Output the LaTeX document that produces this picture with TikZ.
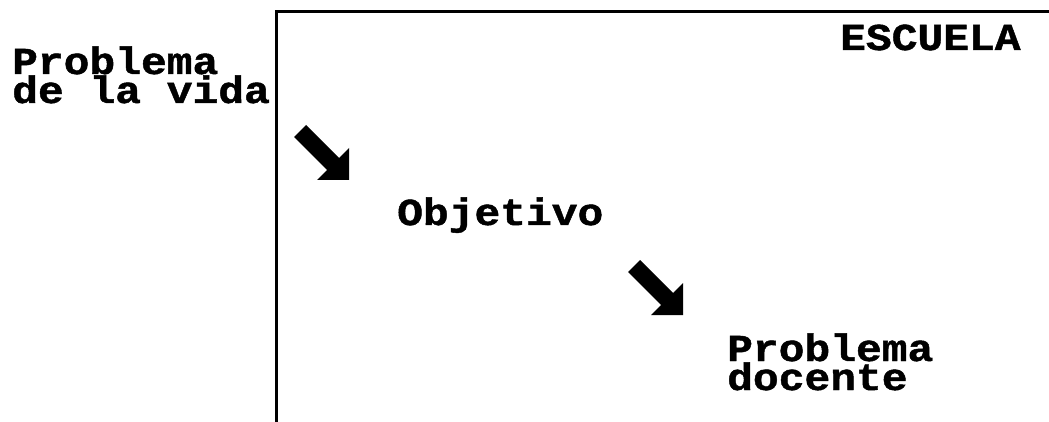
\documentclass[tikz,border=0pt]{standalone}
\usepackage{fontspec}
\newfontfamily\pixfont[FakeStretch=1.13,BoldFeatures={FakeBold=1.2}]{Liberation Mono}
\begin{document}
\begin{tikzpicture}[x=1pt,y=-1pt,
  lbl/.style={inner sep=0pt,anchor=base west,align=left,font=\pixfont\bfseries\fontsize{38}{29}\selectfont},
  frame/.style={line width=3pt},
  blockarrow/.style={fill=black,draw=none}]
\useasboundingbox (0,0) rectangle (1049,422);
\fill[white] (0,0) rectangle (1049,422);
% frame of the school
\draw[frame] (276.5,430) -- (276.5,12) -- (1060,12);
% labels (anchor = baseline of last line)
\node[lbl] (vida) at (12,103) {Problema\\de la vida};
\node[lbl] (escuela) at (840,50) {ESCUELA};
\node[lbl] (objetivo) at (397,225) {Objetivo};
\node[lbl] (docente) at (727,390) {Problema\\docente};
% block arrows (tips)
\coordinate (tipA) at (349,180);
\coordinate (tipB) at (683,315);
\foreach \t in {tipA,tipB}{
  \fill[blockarrow] ([shift={(-43,-55)}]\t) -- ([shift={(-10,-22)}]\t) -- ([shift={(0,-32)}]\t)
    -- (\t) -- ([shift={(-32,0)}]\t) -- ([shift={(-22,-10)}]\t) -- ([shift={(-55,-43)}]\t) -- cycle;
}
\end{tikzpicture}
\end{document}
